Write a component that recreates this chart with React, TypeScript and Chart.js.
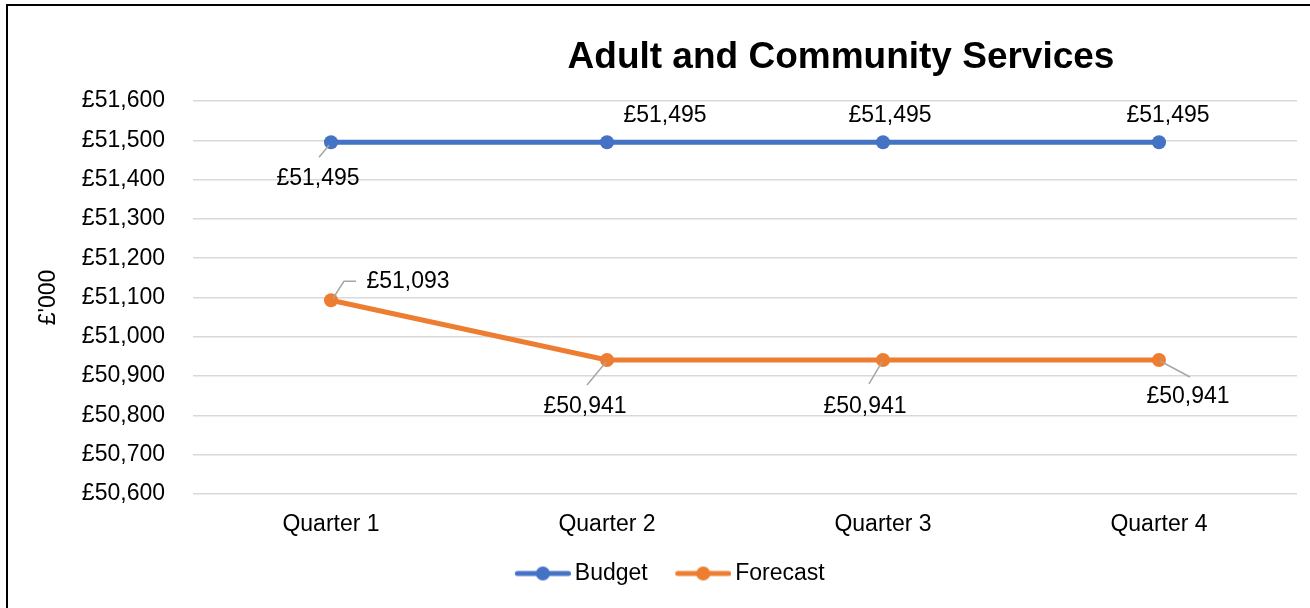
import { useEffect, useRef } from 'react';
import { Chart, registerables } from 'chart.js';

Chart.register(...registerables);

// ---- data ----
const categories = ['Quarter 1', 'Quarter 2', 'Quarter 3', 'Quarter 4'];
const budget = [51495, 51495, 51495, 51495];
const forecast = [51093, 50941, 50941, 50941];
const yMin = 50600;
const yMax = 51600;
const yStep = 100;
const chartTitle = 'Adult and Community Services';
const yAxisTitle = "£'000";
const seriesNames = ['Budget', 'Forecast'];

// ---- style ----
const FONT = '"Liberation Sans", Arial, sans-serif';
const BLUE = '#4472C4';
const ORANGE = '#ED7D31';
const GRID = '#d9d9d9';
const LEADER = '#a6a6a6';

// label offsets (px from point) and optional leader line points
type LabelPos = { dx: number; dy: number; leader?: number[][] };
const labelPositions: LabelPos[][] = [
  [
    { dx: -13, dy: 35, leader: [[-2, 3], [-12, 15]] },
    { dx: 58, dy: -28 },
    { dx: 7, dy: -28 },
    { dx: 9, dy: -28 },
  ],
  [
    { dx: 77, dy: -20, leader: [[2, -2], [13, -19], [25, -19]] },
    { dx: -22, dy: 46, leader: [[-1, 2], [-20, 25]] },
    { dx: -18, dy: 46, leader: [[-1, 2], [-14, 24]] },
    { dx: 29, dy: 36, leader: [[1, 1], [31, 17]] },
  ],
];

const fmt = (v: number) => '£' + v.toLocaleString('en-GB');

function legendIcon(color: string) {
  const c = document.createElement('canvas');
  c.width = 81;
  c.height = 16;
  const ctx = c.getContext('2d')!;
  ctx.strokeStyle = color;
  ctx.lineWidth = 5;
  ctx.lineCap = 'round';
  ctx.beginPath();
  ctx.moveTo(27.5, 8);
  ctx.lineTo(78.5, 8);
  ctx.stroke();
  ctx.fillStyle = color;
  ctx.beginPath();
  ctx.arc(53, 8, 7, 0, Math.PI * 2);
  ctx.fill();
  return c;
}

const titlePlugin = {
  id: 'customTitle',
  afterDraw(chart: any) {
    const ctx = chart.ctx;
    ctx.save();
    ctx.font = `bold 37px ${FONT}`;
    ctx.fillStyle = '#000';
    ctx.textAlign = 'center';
    ctx.textBaseline = 'alphabetic';
    ctx.fillText(chartTitle, 841, 68);
    ctx.restore();
  },
};

const labelPlugin = {
  id: 'dataLabels',
  afterDatasetsDraw(chart: any) {
    const ctx = chart.ctx;
    ctx.save();
    chart.data.datasets.forEach((ds: any, di: number) => {
      const meta = chart.getDatasetMeta(di);
      meta.data.forEach((pt: any, i: number) => {
        const pos = labelPositions[di][i];
        const x = pt.x;
        const y = pt.y;
        if (pos.leader) {
          ctx.strokeStyle = LEADER;
          ctx.lineWidth = 1.5;
          ctx.beginPath();
          pos.leader.forEach((p, k) => {
            if (k === 0) ctx.moveTo(x + p[0], y + p[1]);
            else ctx.lineTo(x + p[0], y + p[1]);
          });
          ctx.stroke();
        }
        ctx.font = `23px ${FONT}`;
        ctx.fillStyle = '#000';
        ctx.textAlign = 'center';
        ctx.textBaseline = 'middle';
        ctx.fillText(fmt(ds.data[i]), x + pos.dx, y + pos.dy + 1);
      });
    });
    ctx.restore();
  },
};

export default function App() {
  const ref = useRef<HTMLCanvasElement>(null);

  useEffect(() => {
    document.body.style.margin = '0';
    const icons = [legendIcon(BLUE), legendIcon(ORANGE)];
    const chart = new Chart(ref.current!, {
      type: 'line',
      data: {
        labels: categories,
        datasets: [
          {
            label: seriesNames[0],
            data: budget,
            borderColor: BLUE,
            backgroundColor: BLUE,
            borderWidth: 5,
            pointRadius: 7,
            pointBorderWidth: 0,
            pointBackgroundColor: BLUE,
            tension: 0,
            clip: false,
          },
          {
            label: seriesNames[1],
            data: forecast,
            borderColor: ORANGE,
            backgroundColor: ORANGE,
            borderWidth: 5,
            pointRadius: 7,
            pointBorderWidth: 0,
            pointBackgroundColor: ORANGE,
            tension: 0,
            clip: false,
          },
        ],
      },
      options: {
        animation: false,
        responsive: false,
        maintainAspectRatio: false,
        layout: { padding: { left: 25, right: 13, top: 101, bottom: 13 } },
        font: { family: FONT },
        scales: {
          x: {
            offset: true,
            grid: { display: false, drawTicks: false },
            border: { display: false },
            ticks: { color: '#000', font: { family: FONT, size: 23 }, padding: 17 },
            afterFit: (s: any) => {
              s.height = 58;
            },
          },
          y: {
            min: yMin,
            max: yMax,
            grid: { color: GRID, lineWidth: 1.5, drawTicks: false },
            border: { display: false },
            ticks: {
              stepSize: yStep,
              color: '#000',
              font: { family: FONT, size: 23 },
              padding: 28,
              callback: (v: any) => fmt(Number(v)),
            },
            title: {
              display: true,
              text: yAxisTitle,
              color: '#000',
              font: { family: FONT, size: 23 },
              padding: { top: 10, bottom: 0 },
            },
            afterFit: (s: any) => {
              s.width = 168;
            },
          },
        },
        plugins: {
          title: { display: false },
          tooltip: { enabled: false },
          legend: {
            position: 'bottom',
            labels: {
              color: '#000',
              font: { family: FONT, size: 23 },
              usePointStyle: true,
              boxWidth: 66,
              pointStyleWidth: 66,
              padding: 10,
              generateLabels: (c: any) =>
                c.data.datasets.map((ds: any, i: number) => ({
                  text: ds.label,
                  pointStyle: icons[i],
                  fillStyle: ds.borderColor,
                  strokeStyle: ds.borderColor,
                  lineWidth: 0,
                  hidden: false,
                  datasetIndex: i,
                  fontColor: '#000',
                })),
            },
          },
        },
      } as any,
      plugins: [titlePlugin, labelPlugin],
    });
    return () => chart.destroy();
  }, []);

  return (
    <div style={{ position: 'relative', width: 1310, height: 608, overflow: 'hidden', background: '#fff' }}>
      <canvas ref={ref} width={1310} height={608} style={{ display: 'block' }} />
      <div
        style={{
          position: 'absolute',
          left: 6,
          top: 4,
          width: 1320,
          height: 700,
          borderTop: '2px solid #000',
          borderLeft: '2px solid #000',
          pointerEvents: 'none',
        }}
      />
    </div>
  );
}
